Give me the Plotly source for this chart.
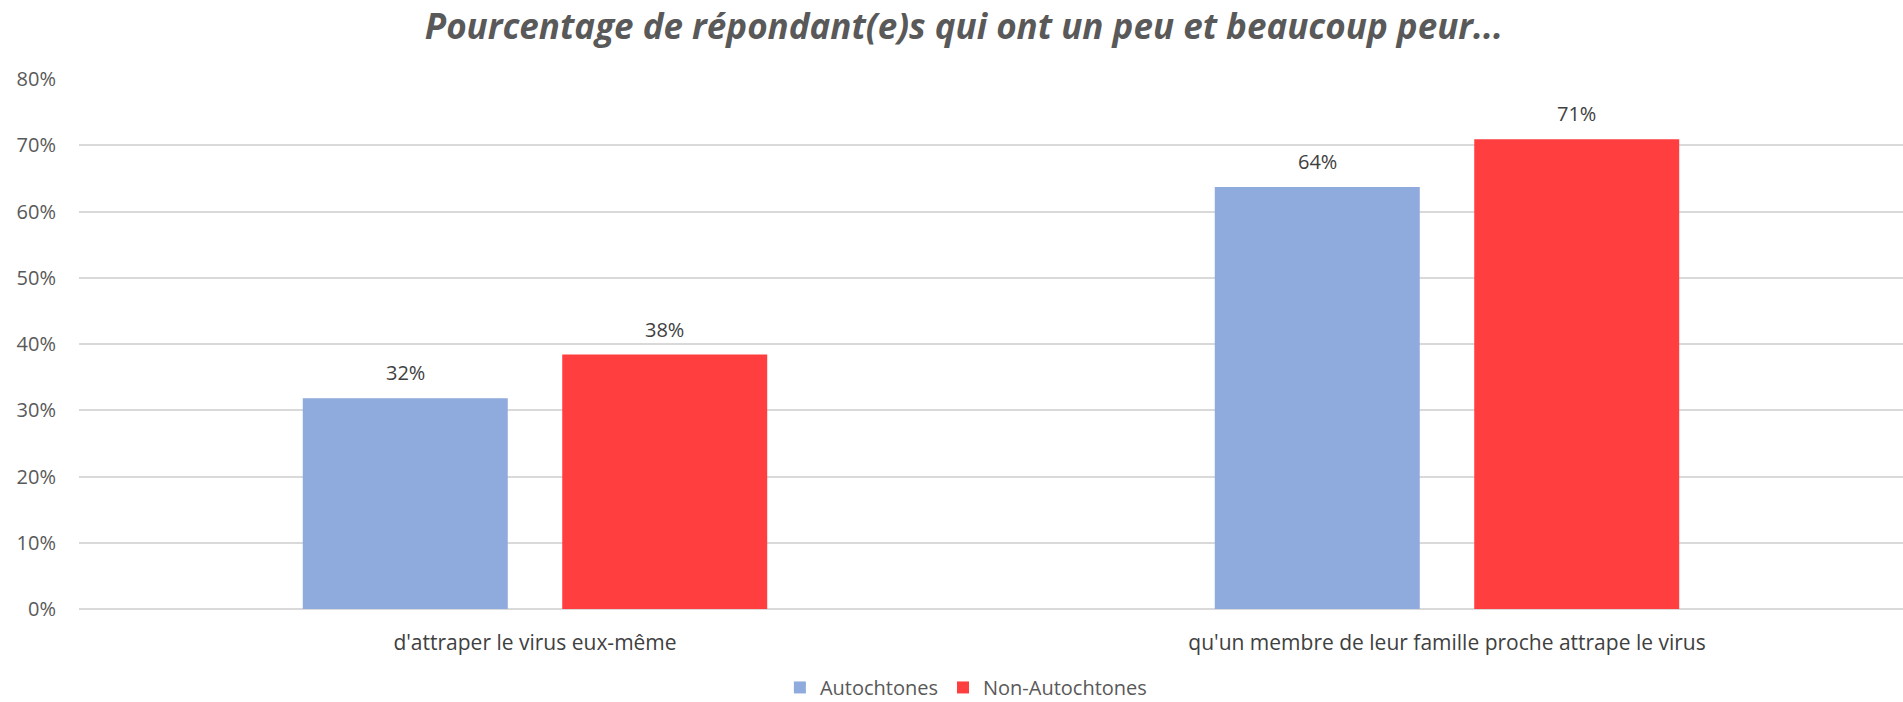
import plotly.graph_objects as go

categories = ["d'attraper le virus eux-même", "qu'un membre de leur famille proche attrape le virus"]
autochtones = [0.318, 0.637]
non_autochtones = [0.384, 0.709]
labels_auto = ["32%", "64%"]
labels_non = ["38%", "71%"]

W, H = 1903, 702
ML, MR, MT, MB = 79, 0, 79, 93
BARGAP, GROUPGAP = 0.431, 0.21
cat_w = (W - ML - MR) / len(categories)
slot = (1 - BARGAP) * cat_w / 2

fig = go.Figure()
fig.add_trace(go.Bar(x=categories, y=autochtones, name="Autochtones",
                     marker=dict(color="#8FAADC", line=dict(width=0))))
fig.add_trace(go.Bar(x=categories, y=non_autochtones, name="Non-Autochtones",
                     marker=dict(color="#FF3F3F", line=dict(width=0))))

for vals, labs, sign in [(autochtones, labels_auto, -1), (non_autochtones, labels_non, 1)]:
    for c, v, t in zip(categories, vals, labs):
        fig.add_annotation(x=c, y=v, text=t, xref="x", yref="y",
                           xshift=sign * slot / 2, yshift=10, yanchor="bottom",
                           showarrow=False,
                           font=dict(family="Open Sans", size=20, color="#404040"))

fig.update_layout(
    width=W, height=H,
    paper_bgcolor="white", plot_bgcolor="white",
    barmode="group", bargap=BARGAP, bargroupgap=GROUPGAP,
    margin=dict(l=ML, r=MR, t=MT, b=MB, autoexpand=False),
    title=dict(
        text="<b><i>Pourcentage de répondant(e)s qui ont un peu et beaucoup peur...</i></b>",
        x=0.5065, xanchor="center", y=0.9615, yanchor="middle",
        font=dict(family="Open Sans", size=35, color="#595959"),
    ),
    legend=dict(
        orientation="h", x=0.4865, xanchor="center", y=-0.148, yanchor="middle",
        font=dict(family="Open Sans", size=20, color="#595959"),
        itemwidth=30, traceorder="normal",
    ),
    showlegend=True,
)
fig.update_yaxes(
    range=[0, 0.8], dtick=0.1, tickformat=".0%",
    showgrid=True, gridcolor="#D9D9D9", gridwidth=1.5,
    zeroline=True, zerolinecolor="#D9D9D9", zerolinewidth=1.5,
    tickfont=dict(family="Open Sans", size=20, color="#595959"),
    ticks="", ticklabelstandoff=22, automargin=False,
)
fig.update_xaxes(
    showgrid=False,
    tickfont=dict(family="Open Sans", size=21, color="#404040"),
    ticks="", ticklabelstandoff=19, automargin=False,
)

fig.write_html("out.html", config={"displayModeBar": False},
               post_script="document.body.style.margin='0';")
